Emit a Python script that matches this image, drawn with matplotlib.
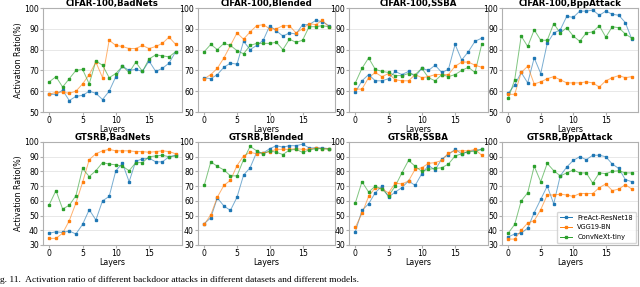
import numpy as np
import matplotlib
matplotlib.use("Agg")
import matplotlib.pyplot as plt

layers = list(range(20))
models = ["PreAct-ResNet18", "VGG19-BN", "ConvNeXt-tiny"]
cores = ["#1f77b4", "#ff7f0e", "#2ca02c"]

titulos = ["CIFAR-100,BadNets", "CIFAR-100,Blended", "CIFAR-100,SSBA", "CIFAR-100,BppAttack",
           "GTSRB,BadNets", "GTSRB,Blended", "GTSRB,SSBA", "GTSRB,BppAttack"]

# CIFAR-100
c_badnets_preact = [58.5, 58.5, 60.5, 55.5, 57.5, 58, 60, 59, 56, 60, 67, 72, 70, 70.5, 69.5, 74.5, 69.5, 71, 73.5, 79]
c_badnets_vgg = [58.5, 59.5, 59.5, 59, 60, 63.5, 68, 74, 66.5, 84.5, 82, 81.5, 80.5, 80.5, 82, 80.5, 81.5, 83, 86, 82.5]
c_badnets_convnext = [64.5, 67, 62, 66, 70, 70.5, 63.5, 74.5, 72.5, 66.5, 68.5, 72, 69, 74, 69.5, 75.5, 77.5, 77, 76.5, 79]

c_blended_preact = [66.5, 66, 68, 71.5, 73.5, 73, 84, 80, 82, 84.5, 91.5, 89, 86.5, 88, 87.5, 92, 92, 94, 93.5, 91.5]
c_blended_vgg = [66, 68, 71, 76, 82, 88, 85, 88.5, 91.5, 92, 90, 90, 91.5, 91.5, 88, 90, 92.5, 92, 94, 91]
c_blended_convnext = [79, 82.5, 80, 83, 82, 79.5, 78, 82, 83, 83, 83, 83.5, 80, 85, 83.5, 84.5, 91, 91, 91.5, 91]

c_ssba_preact = [59.5, 65, 68, 65, 65, 66, 69.5, 68, 69.5, 67, 71, 70, 72.5, 69, 70.5, 82.5, 75, 79, 84, 85.5]
c_ssba_vgg = [61, 61, 66.5, 69, 67, 68.5, 65.5, 65, 65, 68, 66.5, 67, 68, 68, 68, 72, 74, 74, 72.5, 71.5]
c_ssba_convnext = [64, 71, 76, 70.5, 69.5, 69, 67.5, 67.5, 68.5, 68, 71, 66.5, 65, 68, 67, 68, 70, 71.5, 69, 82.5]

c_bpp_preact = [59, 63, 69, 64, 76, 68.5, 83, 88, 89.5, 96, 95.5, 98.5, 98.5, 99, 96.5, 98.5, 97, 96.5, 93, 85]
c_bpp_vgg = [58.5, 58.5, 69, 72, 63.5, 64.5, 66, 67, 65.5, 64, 64, 64, 64.5, 64, 62, 65, 66.5, 67.5, 66.5, 67]
c_bpp_convnext = [56.5, 65.5, 86.5, 81.5, 89.5, 84.5, 84.5, 92.5, 88, 90.5, 86.5, 84, 88, 88.5, 91.5, 86, 91, 90.5, 87.5, 85.5]

# GTSRB
g_badnets_preact = [38, 39, 38.5, 39.5, 37.5, 44, 54, 47, 60, 63, 80.5, 85.5, 73, 87, 88.5, 89, 86.5, 86.5, 90, 91]
g_badnets_vgg = [34.5, 34.5, 38, 46.5, 58.5, 72.5, 88, 92, 94, 95, 94, 94, 94, 93.5, 93.5, 93, 93.5, 94, 93.5, 92]
g_badnets_convnext = [57.5, 67, 54.5, 57, 63.5, 82, 76.5, 80.5, 86, 85, 84.5, 83.5, 80.5, 86, 86, 90, 90.5, 91, 90, 90.5]

g_blended_preact = [44.5, 48.5, 62, 56.5, 53.5, 62.5, 77.5, 82.5, 93, 92.5, 95.5, 97.5, 96.5, 97.5, 97.5, 98.5, 96, 96, 96, 95.5]
g_blended_vgg = [44, 50.5, 62.5, 70.5, 74, 84, 90.5, 93, 92, 92.5, 93.5, 95, 95, 95, 95.5, 95, 95, 96, 95.5, 95.5]
g_blended_convnext = [70.5, 86.5, 83.5, 81, 77, 77, 88, 97, 94, 92, 94, 93, 91.5, 94.5, 95, 93, 94.5, 95.5, 95.5, 95]

g_ssba_preact = [39, 53.5, 58, 65.5, 70, 62.5, 66, 69, 73.5, 70.5, 78.5, 84, 81, 88.5, 91.5, 95, 92, 93.5, 94.5, 95]
g_ssba_vgg = [42, 51.5, 63, 69, 68, 65.5, 72, 71.5, 73.5, 81.5, 82.5, 85.5, 86, 87.5, 92.5, 94, 94, 94, 95, 91]
g_ssba_convnext = [58.5, 73, 66, 70, 68, 63.5, 70, 79, 87.5, 83.5, 80, 81.5, 82, 82.5, 85, 90.5, 92, 93.5, 93.5, 95]

g_bpp_preact = [35.5, 37.5, 38, 41.5, 52, 61, 70, 58, 77, 83, 87.5, 90, 88, 91, 91, 90, 85, 82, 74.5, 73]
g_bpp_vgg = [34, 34, 40, 45, 46.5, 54, 64, 64, 64.5, 64, 63, 65, 65, 65, 69, 71.5, 67, 68, 71, 68]
g_bpp_convnext = [38, 44, 60, 65.5, 83.5, 73, 85.5, 80.5, 77, 79, 81, 79, 79, 72, 79, 78.5, 80, 80.5, 79, 79]

dados = [
    (c_badnets_preact, c_badnets_vgg, c_badnets_convnext),
    (c_blended_preact, c_blended_vgg, c_blended_convnext),
    (c_ssba_preact, c_ssba_vgg, c_ssba_convnext),
    (c_bpp_preact, c_bpp_vgg, c_bpp_convnext),
    (g_badnets_preact, g_badnets_vgg, g_badnets_convnext),
    (g_blended_preact, g_blended_vgg, g_blended_convnext),
    (g_ssba_preact, g_ssba_vgg, g_ssba_convnext),
    (g_bpp_preact, g_bpp_vgg, g_bpp_convnext),
]

fig = plt.figure(figsize=(6.4, 2.87), dpi=100)
W, H = 640.0, 287.0
colunas = [(43, 182), (198, 335), (349, 488), (502, 638)]
linhas = [(8, 112), (142, 245)]

for i, (titulo, series) in enumerate(zip(titulos, dados)):
    r, c = divmod(i, 4)
    x0, x1 = colunas[c]
    y0, y1 = linhas[r]
    ax = fig.add_axes([x0 / W, 1 - y1 / H, (x1 - x0) / W, (y1 - y0) / H])
    for serie, nome, cor in zip(series, models, cores):
        ax.plot(layers, serie, color=cor, lw=0.7, alpha=0.6, zorder=2)
        ax.plot(layers, serie, ls="none", marker="s", ms=1.5, color=cor, label=nome, zorder=3)
    ax.set_title(titulo, fontsize=6.2, fontweight="bold", pad=1.5)
    ax.set_xticks([0, 5, 10, 15])
    if r == 0:
        ax.set_ylim(50, 100)
        ax.set_yticks([50, 60, 70, 80, 90, 100])
    else:
        ax.set_ylim(30, 100)
        ax.set_yticks([30, 40, 50, 60, 70, 80, 90, 100])
    ax.grid(axis="y", color="#e8e8e8", lw=0.7)
    ax.set_axisbelow(True)
    for s in ax.spines.values():
        s.set_color("#b0b0b0")
        s.set_linewidth(0.8)
    ax.tick_params(labelsize=5.6, length=2, pad=1, color="#b0b0b0")
    ax.set_xlabel("Layers", fontsize=5.7, labelpad=0)
    if c == 0:
        ax.set_ylabel("Activation Ratio(%)", fontsize=5.7, labelpad=1)
    if i == 7:
        leg = ax.legend(fontsize=4.8, loc="lower right", frameon=True, handlelength=1.8,
                        borderpad=0.45, labelspacing=0.55, borderaxespad=0.3)
        for h in leg.legend_handles:
            h.set_linestyle("-")
            h.set_linewidth(0.7)

fig.text(0.0, 1 - 280 / H, "g. 11.  Activation ratio of different backdoor attacks in different datasets and different models.",
         fontsize=6.8, family="Liberation Serif", va="center", ha="left")

plt.savefig("out.png", dpi=100)
